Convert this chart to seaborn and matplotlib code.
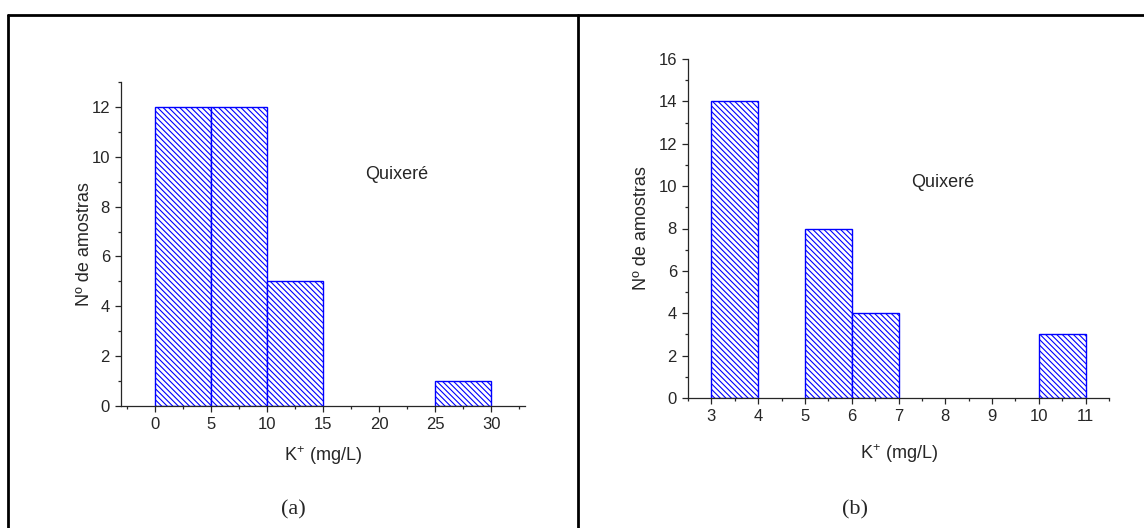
import numpy as np
import pandas as pd
import seaborn as sns
import matplotlib
matplotlib.use("Agg")
import matplotlib.pyplot as plt
from matplotlib.ticker import MultipleLocator
from matplotlib.lines import Line2D

sns.set_style("ticks")
plt.rcParams['font.family'] = ['Liberation Sans', 'DejaVu Sans']
plt.rcParams['mathtext.default'] = 'regular'
plt.rcParams['hatch.color'] = '#0000ff'
plt.rcParams['hatch.linewidth'] = 0.8

# Panel (a)
a_edges = [0, 5, 10, 15, 20, 25, 30]
a_centers = [2.5, 7.5, 12.5, 17.5, 22.5, 27.5]
a_counts = [12, 12, 5, 0, 0, 1]
# Panel (b)
b_edges = [3, 4, 5, 6, 7, 8, 9, 10, 11]
b_centers = [3.5, 4.5, 5.5, 6.5, 7.5, 8.5, 9.5, 10.5]
b_counts = [14, 0, 8, 4, 0, 0, 0, 3]

xlabel = "K$^{+}$ (mg/L)"
ylabel = "Nº de amostras"
site = "Quixeré"

fig = plt.figure(figsize=(11.44, 5.28), dpi=100)

def panel(rect, centers, counts, edges, xlim, ylim, xmaj, xmin, ymaj, ymin,
          txt_xy, xpad, ypad):
    ax = fig.add_axes(rect)
    df = pd.DataFrame({"x": centers, "w": counts})
    sns.histplot(data=df, x="x", weights="w", bins=edges, ax=ax,
                 facecolor="white", edgecolor="#0000ff", linewidth=1.0,
                 hatch="\\" * 6, alpha=1)
    for p in ax.patches:
        if p.get_height() == 0:
            p.set_visible(False)
    ax.set_xlim(*xlim)
    ax.set_ylim(*ylim)
    ax.xaxis.set_major_locator(MultipleLocator(xmaj))
    ax.xaxis.set_minor_locator(MultipleLocator(xmin))
    ax.yaxis.set_major_locator(MultipleLocator(ymaj))
    ax.yaxis.set_minor_locator(MultipleLocator(ymin))
    sns.despine(ax=ax)
    for s in ("left", "bottom"):
        ax.spines[s].set_linewidth(0.9)
    ax.tick_params(which="major", length=4, width=0.9, labelsize=12, pad=4)
    ax.tick_params(which="minor", length=2.5, width=0.9)
    ax.set_xlabel(xlabel, fontsize=13, labelpad=xpad)
    ax.set_ylabel(ylabel, fontsize=13, labelpad=ypad)
    ax.text(txt_xy[0], txt_xy[1], site, fontsize=13, va="center",
            transform=ax.transData)
    return ax

W, H = 1144, 528
axa = panel([121 / W, 1 - 406 / H, (525 - 121) / W, (406 - 82) / H],
            a_centers, a_counts, a_edges, (-3, 33), (0, 13), 5, 2.5, 2, 1,
            (18.75, 9.3), 9, -1)
axb = panel([688 / W, 1 - 398 / H, (1109 - 688) / W, (398 - 59) / H],
            b_centers, b_counts, b_edges, (2.5, 11.5), (0, 16), 1, 0.5, 2, 1,
            (7.27, 10.15), 13, 6)

for (x0, y0, x1, y1) in [(8, 15, 1144, 15), (8, 15, 8, 528), (578, 15, 578, 528)]:
    fig.add_artist(Line2D([x0 / W, x1 / W], [1 - y0 / H, 1 - y1 / H], color="black",
                          linewidth=2.0, transform=fig.transFigure))

fig.text(293 / W, 1 - 510 / H, "(a)", ha="center", va="center", fontsize=16,
         family=["Liberation Serif", "DejaVu Serif"])
fig.text(855 / W, 1 - 510 / H, "(b)", ha="center", va="center", fontsize=16,
         family=["Liberation Serif", "DejaVu Serif"])

fig.savefig("out.png", dpi=100)
